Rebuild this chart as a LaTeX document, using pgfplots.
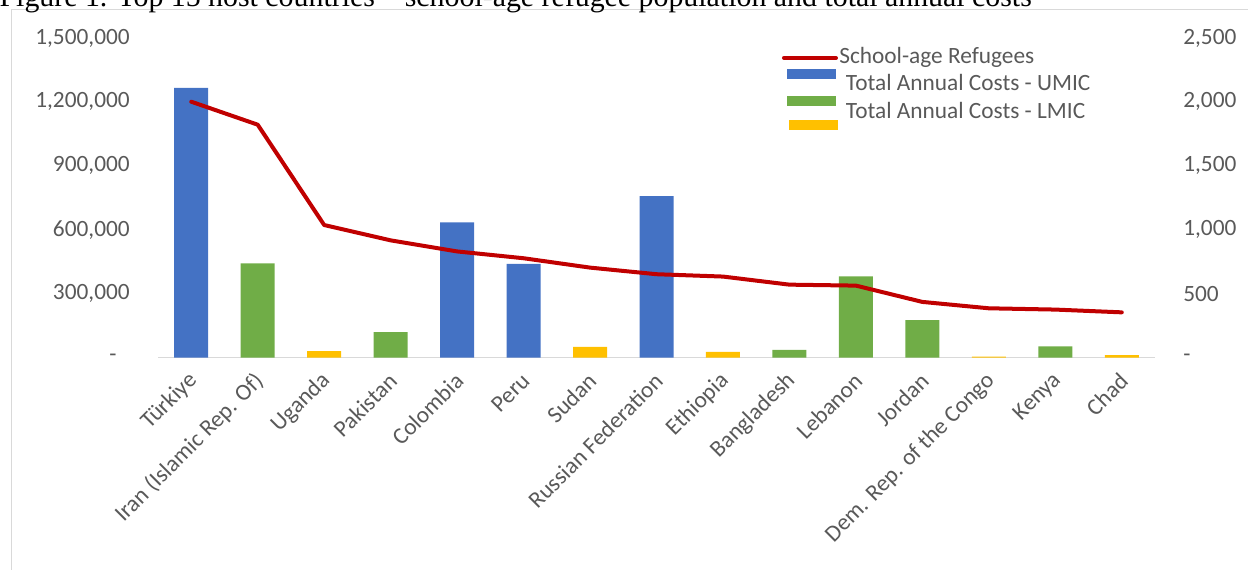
\documentclass[border=0pt]{standalone}
\usepackage{fontspec}
\setmainfont{Carlito}
\newfontfamily\titlefont{Liberation Serif}
\usepackage{pgfplots}
\pgfplotsset{compat=1.18}
\definecolor{umic}{HTML}{4472C4}
\definecolor{lmic}{HTML}{70AD47}
\definecolor{lic}{HTML}{FFC000}
\definecolor{refred}{HTML}{C00000}
\definecolor{tickgray}{HTML}{595959}
\definecolor{framegray}{HTML}{D9D9D9}
\newcommand{\lblfont}{\fontsize{17.5}{21}\selectfont}
\begin{document}
\begin{tikzpicture}
\draw[framegray, line width=0.75pt] (8.25pt,-20pt) -- (8.25pt,419.25pt) -- (960pt,419.25pt);
\node[anchor=base west, inner sep=0pt, font=\titlefont\fontsize{22.4}{26}\selectfont] at (-0.5pt,421.5pt) {Figure 1. Top 15 host countries – school-age refugee population and total annual costs};
% bars: total annual costs (right axis)
\begin{axis}[
  at={(118.5pt,158.625pt)}, anchor=south west,
  scale only axis, width=747.75pt, height=239.625pt,
  xmin=-0.5, xmax=14.5, ymin=0, ymax=2500,
  axis x line*=bottom, axis y line*=right,
  x axis line style={draw=framegray, line width=1.2pt},
  y axis line style={draw=none},
  major tick length=0pt,
  xtick={0,...,14},
  xticklabels={Türkiye, Iran (Islamic Rep. Of), Uganda, Pakistan, Colombia, Peru, Sudan, Russian Federation, Ethiopia, Bangladesh, Lebanon, Jordan, Dem. Rep. of the Congo, Kenya, Chad},
  xticklabel style={rotate=45, anchor=east, inner sep=0pt, font=\lblfont, text=tickgray, xshift=2.5pt},
  xticklabel shift=16.5pt,
  ytick={0,500,1000,1500,2000,2500},
  yticklabels={-,500,{1,000},{1,500},{2,000},{2,500}},
  yticklabel style={anchor=west, inner sep=0pt, font=\lblfont, text=tickgray},
  yticklabel shift=21pt,
  clip=false,
]
\addplot[ybar, bar width=25.5pt, bar shift=0pt, fill=umic, draw=none] coordinates {(0,2110) (4,1057) (5,732) (7,1263)};
\addplot[ybar, bar width=25.5pt, bar shift=0pt, fill=lmic, draw=none] coordinates {(1,737) (3,198) (9,60) (10,635) (11,292) (13,88)};
\addplot[ybar, bar width=25.5pt, bar shift=0pt, fill=lic, draw=none] coordinates {(2,49) (6,83) (8,45) (12,6) (14,18)};
\end{axis}
% line: school-age refugees (left axis)
\begin{axis}[
  at={(118.5pt,158.625pt)}, anchor=south west,
  scale only axis, width=747.75pt, height=239.625pt,
  xmin=-0.5, xmax=14.5, ymin=0, ymax=1500000,
  axis x line=none, axis y line*=left,
  y axis line style={draw=none},
  major tick length=0pt,
  scaled y ticks=false,
  ytick={0,300000,600000,900000,1200000,1500000},
  yticklabels={{-\kern10pt},{300,000},{600,000},{900,000},{1,200,000},{1,500,000}},
  yticklabel style={anchor=east, inner sep=0pt, font=\lblfont, text=tickgray},
  yticklabel shift=21pt,
  clip=false,
  legend cell align=left,
  legend style={at={(0.6276,0.977)}, anchor=north west, draw=none, fill=none, inner sep=0pt,
    font=\lblfont, text=tickgray, row sep=2pt,
    nodes={inner sep=1pt, text height=12.5pt, text depth=4pt}},
]
\addplot[refred, line width=3pt, line cap=round, line join=round, mark=none,
  legend image code/.code={\path[draw=none, fill=none] (0pt,0pt) -- (40.5pt,0pt); \draw[refred, line width=3pt, overlay] (0pt,0pt) -- (39pt,0pt);}]
  coordinates {(0,1201000) (1,1093000) (2,622000) (3,550000) (4,498000) (5,466000) (6,422000) (7,391000) (8,380000) (9,342000) (10,337500) (11,261000) (12,231000) (13,225000) (14,212000)};
\addlegendentry{School-age Refugees}
\addlegendimage{legend image code/.code={\path[draw=none, fill=none] (0pt,0pt) -- (40.5pt,0pt); \fill[umic, draw=none, overlay] (2.25pt,5pt) rectangle (39pt,12.5pt);}}
\addlegendentry{\hspace{5pt}Total Annual Costs - UMIC}
\addlegendimage{legend image code/.code={\path[draw=none, fill=none] (0pt,0pt) -- (40.5pt,0pt); \fill[lmic, draw=none, overlay] (2.25pt,5pt) rectangle (39pt,12.5pt);}}
\addlegendentry{\hspace{5pt}Total Annual Costs - LMIC}
\addlegendimage{legend image code/.code={\path[draw=none, fill=none] (0pt,0pt) -- (40.5pt,0pt); \fill[lic, draw=none, overlay] (3.75pt,7.6pt) rectangle (40.5pt,15.1pt);}}
\addlegendentry{}
\end{axis}
\pgfresetboundingbox
\path[use as bounding box] (0pt,0pt) rectangle (936pt,426.75pt);
\end{tikzpicture}
\end{document}
